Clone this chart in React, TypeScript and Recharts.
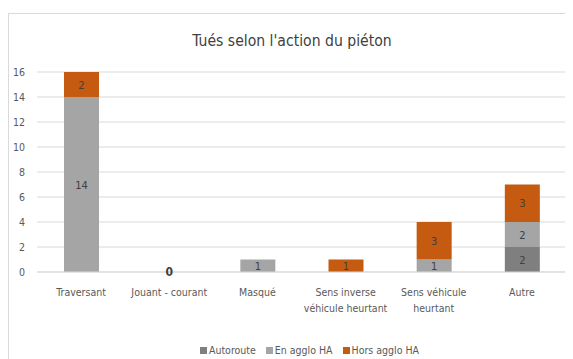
import React from "react";
import { BarChart, Bar, XAxis, YAxis, CartesianGrid, Legend, LabelList, ReferenceDot } from "recharts";

const categories = [
  "Traversant",
  "Jouant - courant",
  "Masqué",
  "Sens inverse\nvéhicule heurtant",
  "Sens véhicule\nheurtant",
  "Autre",
];
const autoroute = [0, 0, 0, 0, 0, 2];
const enAgglo = [14, 0, 1, 0, 1, 2];
const horsAgglo = [2, 0, 0, 1, 3, 3];
const yTicks = [0, 2, 4, 6, 8, 10, 12, 14, 16];

const FONT = "'DejaVu Sans Condensed', 'Liberation Sans Narrow', Arial, sans-serif";
const COLORS = { autoroute: "#7F7F7F", enAgglo: "#A5A5A5", horsAgglo: "#C55A11" };

const data = categories.map((name, i) => ({
  name,
  autoroute: autoroute[i],
  enAgglo: enAgglo[i],
  horsAgglo: horsAgglo[i],
  total: autoroute[i] + enAgglo[i] + horsAgglo[i],
}));

const emptyCategories = data.filter((d) => d.total === 0);

const segLabel = (props: any) => {
  const { x, y, width, height, value } = props;
  if (!value) return null;
  return (
    <text x={x + width / 2} y={y + height / 2} dy={4} textAnchor="middle" fontSize={11} fill="#404040" fontFamily={FONT}>
      {value}
    </text>
  );
};

const ZeroLabel = (props: any) => {
  const { viewBox, value } = props;
  const cx = viewBox.x + (viewBox.width || 0) / 2;
  const cy = viewBox.y + (viewBox.height || 0) / 2;
  return (
    <text x={cx} y={cy} dy={4} textAnchor="middle" fontSize={12} fontWeight="bold" fill="#404040" fontFamily={FONT}>
      {value}
    </text>
  );
};

const XTick = (props: any) => {
  const { x, y, payload } = props;
  const lines = String(payload.value).split("\n");
  return (
    <g>
      {lines.map((l, i) => (
        <text key={i} x={x} y={y + 16 + i * 16} textAnchor="middle" fontSize={10.5} fill="#595959" fontFamily={FONT}>
          {l}
        </text>
      ))}
    </g>
  );
};

const legendItems = [
  { key: "autoroute", label: "Autoroute" },
  { key: "enAgglo", label: "En agglo HA" },
  { key: "horsAgglo", label: "Hors agglo HA" },
];

const LegendContent = () => (
  <div style={{ height: 18, paddingLeft: 45, display: "flex", justifyContent: "center", alignItems: "center", fontFamily: FONT, fontSize: 10.5, color: "#595959" }}>
    {legendItems.map((it) => (
      <span key={it.key} style={{ display: "inline-flex", alignItems: "center", margin: "0 5px" }}>
        <span style={{ width: 7, height: 7, background: (COLORS as any)[it.key], marginRight: 2 }} />
        {it.label}
      </span>
    ))}
  </div>
);

export default function App() {
  return (
    <div style={{ position: "relative", width: 565, height: 351, overflow: "hidden", background: "#fff" }}>
      <div style={{ position: "absolute", left: 0, top: 5, width: 600, height: 400, border: "1px solid #D9D9D9", boxSizing: "border-box" }} />
      <div style={{ position: "absolute", left: 0, top: 24, width: 568, textAlign: "center", fontFamily: FONT, fontSize: 15.6, color: "#404040" }}>
        Tués selon l'action du piéton
      </div>
      <div style={{ position: "absolute", left: 0, top: 0 }}>
        <BarChart width={565} height={351} data={data} margin={{ top: 64, right: 7, left: 0, bottom: 0 }} barSize={35}>
          <CartesianGrid vertical={false} stroke="#D9D9D9" />
          <XAxis dataKey="name" interval={0} tick={<XTick />} tickLine={false} axisLine={{ stroke: "#D9D9D9" }} height={69} />
          <YAxis domain={[0, 16]} ticks={yTicks} width={29} tickLine={false} axisLine={false} tickMargin={6}
            tick={{ fontSize: 10.5, fill: "#595959", fontFamily: FONT }} interval={0} />
          <Legend verticalAlign="bottom" content={<LegendContent />} />
          <Bar dataKey="autoroute" stackId="a" fill={COLORS.autoroute} isAnimationActive={false}>
            <LabelList dataKey="autoroute" content={segLabel} />
          </Bar>
          <Bar dataKey="enAgglo" stackId="a" fill={COLORS.enAgglo} isAnimationActive={false}>
            <LabelList dataKey="enAgglo" content={segLabel} />
          </Bar>
          <Bar dataKey="horsAgglo" stackId="a" fill={COLORS.horsAgglo} isAnimationActive={false}>
            <LabelList dataKey="horsAgglo" content={segLabel} />
          </Bar>
          {emptyCategories.map((d) => (
            <ReferenceDot key={d.name} x={d.name} y={d.total} r={0} stroke="none" fill="none" ifOverflow="visible"
              label={<ZeroLabel value={d.total} />} />
          ))}
        </BarChart>
      </div>
    </div>
  );
}
